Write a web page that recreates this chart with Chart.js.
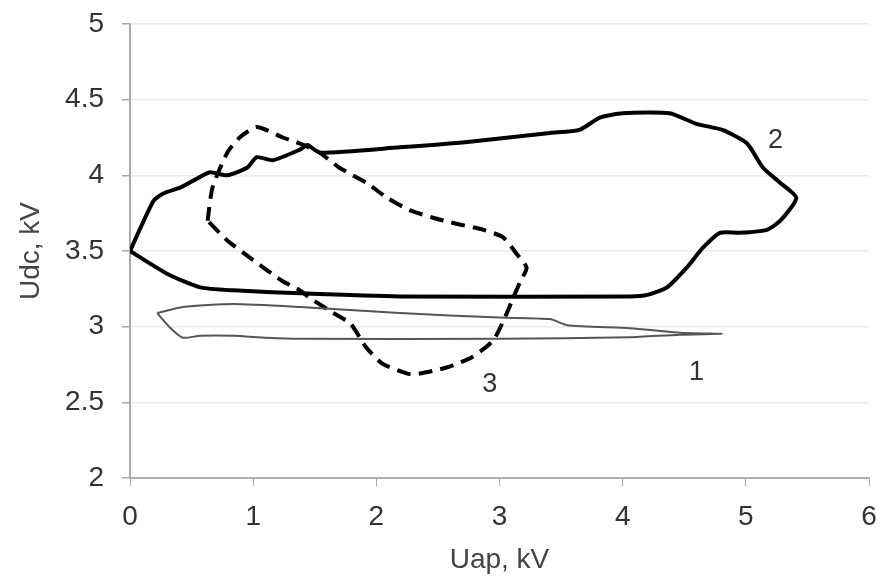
<!DOCTYPE html>
<html>
<head>
<meta charset="utf-8">
<script src="https://cdn.jsdelivr.net/npm/chart.js@4/dist/chart.umd.min.js"></script>
<style>
  html, body { margin: 0; padding: 0; background: #fff; }
  #wrap { width: 881px; height: 581px; }
</style>
</head>
<body>
<div id="wrap"><canvas id="myChart"></canvas></div>
<script>
// curve 1 - thin grey loop
const c1_x = [0.22, 0.43, 0.84, 1.38, 2.19, 3.0, 3.41, 3.55, 4.06, 4.46, 4.81, 4.46, 4.06, 3.0, 1.38, 1.11, 0.84, 0.57, 0.43, 0.33, 0.22];
const c1_y = [3.09, 3.13, 3.15, 3.13, 3.09, 3.06, 3.05, 3.01, 2.99, 2.96, 2.953, 2.947, 2.93, 2.92, 2.92, 2.927, 2.94, 2.94, 2.927, 2.99, 3.09];

// curve 2 - thick solid loop
const c2_x = [0, 0.19, 0.27, 0.41, 0.57, 0.65, 0.79, 0.95, 1.03, 1.16, 1.38, 1.44, 1.54, 2.19, 2.74, 3.41, 3.65, 3.81, 4.0, 4.38, 4.6, 4.81, 5.01, 5.14, 5.28, 5.41,
              5.28, 5.17, 4.95, 4.79, 4.65, 4.52, 4.36, 4.2, 4.06, 2.19, 1.38, 0.84, 0.57, 0.3, 0];
const c2_y = [3.5, 3.83, 3.88, 3.92, 3.99, 4.02, 4.0, 4.05, 4.12, 4.1, 4.17, 4.2, 4.15, 4.185, 4.22, 4.28, 4.3, 4.38, 4.41, 4.41, 4.34, 4.3, 4.21, 4.05, 3.95, 3.85,
              3.7, 3.64, 3.62, 3.62, 3.52, 3.39, 3.26, 3.21, 3.2, 3.2, 3.22, 3.24, 3.26, 3.35, 3.5];

// curve 3 - thick dashed loop
const c3_x = [0.63, 0.67, 0.79, 0.89, 1.03, 1.24, 1.38, 1.54, 1.7, 1.92, 2.09, 2.27, 2.46, 2.65, 2.87, 3.03, 3.14, 3.22, 3.17, 3.11, 3.06, 2.95, 2.78, 2.57, 2.35, 2.25,
              2.05, 1.92, 1.79, 1.65, 1.46, 1.38, 1.24, 1.0, 0.79, 0.63];
const c3_y = [3.7, 3.92, 4.15, 4.25, 4.32, 4.25, 4.21, 4.15, 4.05, 3.95, 3.85, 3.77, 3.72, 3.68, 3.64, 3.59, 3.48, 3.39, 3.3, 3.19, 3.09, 2.91, 2.8, 2.73, 2.69, 2.69,
              2.755, 2.86, 3.02, 3.09, 3.19, 3.24, 3.3, 3.44, 3.57, 3.7];

// curve number labels
const lbl_text = ["1", "2", "3"];
const lbl_x = [4.6, 5.24, 2.92];
const lbl_y = [2.7, 4.23, 2.62];

const x_ticks = [0, 1, 2, 3, 4, 5, 6];
const y_ticks = [2, 2.5, 3, 3.5, 4, 4.5, 5];

function pts(xs, ys) {
  let out = [];
  for (let i = 0; i < xs.length; i++) {
    out.push({ x: xs[i], y: ys[i] });
  }
  return out;
}

const curveLabels = {
  id: "curveLabels",
  afterDatasetsDraw(chart) {
    const ctx = chart.ctx;
    const xs = chart.scales.x, ys = chart.scales.y;
    ctx.save();
    ctx.font = "27px 'Liberation Sans', Arial, sans-serif";
    ctx.fillStyle = "#333";
    ctx.textAlign = "center";
    ctx.textBaseline = "middle";
    for (let i = 0; i < lbl_text.length; i++) {
      ctx.fillText(lbl_text[i], xs.getPixelForValue(lbl_x[i]), ys.getPixelForValue(lbl_y[i]));
    }
    ctx.restore();
  }
};

const font = { family: "'Liberation Sans', Arial, sans-serif", size: 28 };

new Chart(document.getElementById("myChart"), {
  type: "scatter",
  data: {
    datasets: [
      {
        label: "1",
        data: pts(c1_x, c1_y),
        showLine: true,
        borderColor: "#555",
        borderWidth: 2,
        pointRadius: 0,
        tension: 0.2
      },
      {
        label: "2",
        data: pts(c2_x, c2_y),
        showLine: true,
        borderColor: "#000",
        borderWidth: 4,
        pointRadius: 0,
        tension: 0.2
      },
      {
        label: "3",
        data: pts(c3_x, c3_y),
        showLine: true,
        borderColor: "#000",
        borderWidth: 4,
        borderDash: [14, 8],
        pointRadius: 0,
        tension: 0.2
      }
    ]
  },
  options: {
    responsive: true,
    maintainAspectRatio: false,
    animation: false,
    layout: { padding: { top: 24, right: 12, left: 0, bottom: 0 } },
    plugins: {
      legend: { display: false },
      tooltip: { enabled: false }
    },
    scales: {
      x: {
        type: "linear",
        min: 0,
        max: 6,
        afterFit(scale) {
          scale.height = 103;
          scale.paddingLeft = 0;
          scale.paddingRight = 0;
        },
        afterBuildTicks(scale) { scale.ticks = x_ticks.map(v => ({ value: v })); },
        grid: { drawOnChartArea: false, drawTicks: true, tickLength: 8, tickColor: "#aaa" },
        border: { color: "#b0b0b0", width: 2 },
        ticks: { color: "#333", font: font, padding: 14, callback: v => String(v) },
        title: { display: true, text: "Uap, kV", color: "#444", font: font, padding: { top: 0, bottom: 4 } }
      },
      y: {
        type: "linear",
        min: 2,
        max: 5,
        afterFit(scale) {
          scale.width = 130;
          scale.paddingTop = 0;
          scale.paddingBottom = 0;
        },
        afterBuildTicks(scale) { scale.ticks = y_ticks.map(v => ({ value: v })); },
        grid: { color: "#ececec", lineWidth: 1.5, tickLength: 8, tickColor: "#aaa" },
        border: { color: "#aaa", width: 2 },
        ticks: { color: "#333", font: font, padding: 18, callback: v => String(v) },
        title: { display: true, text: "Udc, kV", color: "#444", font: font, padding: { top: 14, bottom: 0 } }
      }
    }
  },
  plugins: [curveLabels]
});
</script>
</body>
</html>
